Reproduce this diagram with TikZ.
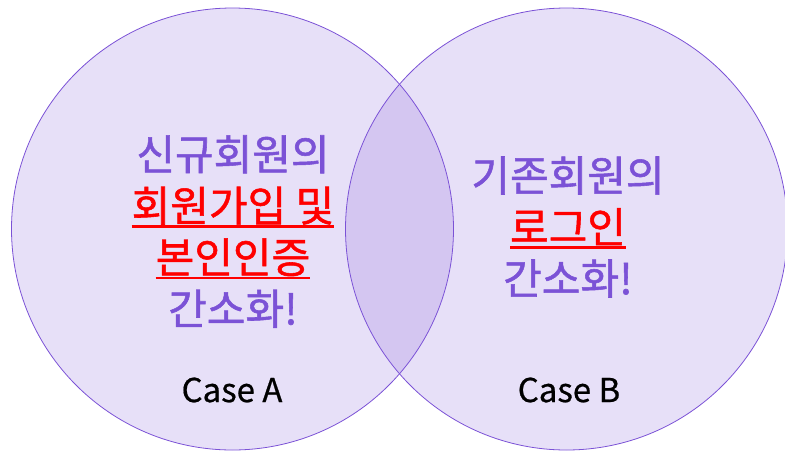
\documentclass[tikz,border=0pt]{standalone}
\usepackage{fontspec}
\newfontfamily\kofont[FakeBold=1.3]{Noto Sans CJK KR}
\newfontfamily\casefont[FakeBold=0.6]{Noto Sans CJK KR}
\usetikzlibrary{positioning}
\definecolor{venn_purple}{RGB}{123,82,214}
\definecolor{venn_red}{RGB}{255,0,0}
% red underlined words
\newcommand{\redline}[1]{\textcolor{venn_red}{\setbox0=\hbox{#1}\rlap{\copy0}\rule[-0.15em]{\wd0}{2.6pt}}}

\begin{document}
\begin{tikzpicture}
    [
        x=1pt, y=-1pt,
        venn_circle/.style={circle, draw=venn_purple, fill=venn_purple, fill opacity=0.18, draw opacity=1, line width=0.8pt, minimum size=442pt, inner sep=0pt},
        main_text/.style={align=center, text=venn_purple, font=\kofont\fontsize{42}{51.5}\selectfont},
        case_text/.style={text=black, font=\casefont\fontsize{33}{36}\selectfont},
    ]
        \useasboundingbox (0,0) rectangle (785,451) ;
        \node[venn_circle] (circle_a) at (232.5,229) {} ;
        \node[venn_circle] (circle_b) at (566.5,229) {} ;
        \node[main_text] (text_a) at (233,231.5) {신규회원의\\\redline{회원가입 및}\\\redline{본인인증}\\간소화!} ;
        \node[main_text] (text_b) at (568,227) {기존회원의\\\redline{로그인}\\간소화!} ;
        \node[case_text] (case_a) at (232,390) {Case A} ;
        \node[case_text] (case_b) at (569,390) {Case B} ;
    \end{tikzpicture}
\end{document}
